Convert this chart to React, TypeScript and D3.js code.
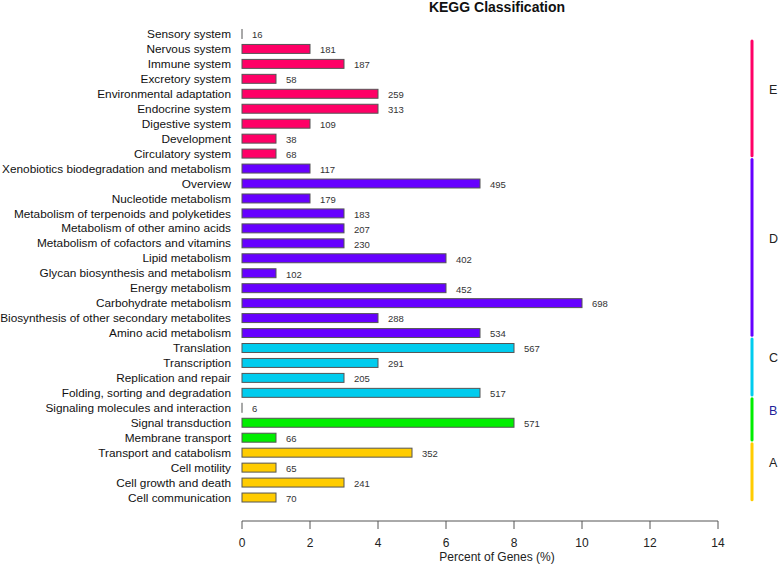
import React from "react";
import * as d3 from "d3";

const categories = [
  "Sensory system", "Nervous system", "Immune system", "Excretory system",
  "Environmental adaptation", "Endocrine system", "Digestive system", "Development",
  "Circulatory system", "Xenobiotics biodegradation and metabolism", "Overview",
  "Nucleotide metabolism", "Metabolism of terpenoids and polyketides",
  "Metabolism of other amino acids", "Metabolism of cofactors and vitamins",
  "Lipid metabolism", "Glycan biosynthesis and metabolism", "Energy metabolism",
  "Carbohydrate metabolism", "Biosynthesis of other secondary metabolites",
  "Amino acid metabolism", "Translation", "Transcription", "Replication and repair",
  "Folding, sorting and degradation", "Signaling molecules and interaction",
  "Signal transduction", "Membrane transport", "Transport and catabolism",
  "Cell motility", "Cell growth and death", "Cell communication",
];

const geneCounts = [
  16, 181, 187, 58, 259, 313, 109, 38, 68, 117, 495, 179, 183, 207, 230, 402, 102,
  452, 698, 288, 534, 567, 291, 205, 517, 6, 571, 66, 352, 65, 241, 70,
];

const percents = [
  0, 2, 3, 1, 4, 4, 2, 1, 1, 2, 7, 2, 3, 3, 3, 6, 1, 6, 10, 4, 7, 8, 4, 3, 7, 0, 8,
  1, 5, 1, 3, 1,
];

const groupOf = [
  "E", "E", "E", "E", "E", "E", "E", "E", "E",
  "D", "D", "D", "D", "D", "D", "D", "D", "D", "D", "D", "D",
  "C", "C", "C", "C",
  "B", "B", "B",
  "A", "A", "A", "A",
];

const groups = ["E", "D", "C", "B", "A"];
const groupColors = ["#FF0066", "#6600FF", "#00CCEE", "#00EE00", "#FFCC00"];
const groupLabelColors = ["#222", "#222", "#222", "#222299", "#222"];
const xTicks = [0, 2, 4, 6, 8, 10, 12, 14];

const W = 778;
const H = 565;
const FONT = "'Liberation Sans', Arial, Helvetica, sans-serif";

export default function App() {
  const x = d3.scaleLinear().domain([0, 14]).range([242, 718]);
  const y = d3
    .scaleBand<string>()
    .domain(categories)
    .range([26.5, 505])
    .paddingInner(0.4)
    .paddingOuter(0.2);
  const color = d3.scaleOrdinal<string, string>().domain(groups).range(groupColors);
  const step = y.step();
  const bw = y.bandwidth();
  const center = (c: string) => (y(c) as number) + bw / 2;
  const plotTop = 41;
  const axisY = 521;

  const groupSpans = groups.map((g, gi) => {
    const members = categories.filter((_, i) => groupOf[i] === g);
    const top = Math.max(center(members[0]) - 0.6 * step, plotTop);
    const bottom = center(members[members.length - 1]) + 0.15 * step;
    return { g, gi, top, bottom };
  });

  return (
    <svg
      width={W}
      height={H}
      style={{ position: "absolute", left: 0, top: 0, background: "#fff" }}
      fontFamily={FONT}
    >
      <rect x={0} y={0} width={W} height={H} fill="#fff" />
      <text x={497} y={12} textAnchor="middle" fontSize={14} fontWeight="bold" fill="#111">
        KEGG Classification
      </text>

      {categories.map((c, i) => {
        const w = Math.max(x(percents[i]) - x(0), 0.01);
        return (
          <g key={c}>
            <text
              x={231}
              y={center(c)}
              dy="0.35em"
              textAnchor="end"
              fontSize={11.8}
              fill="#111"
            >
              {c}
            </text>
            <rect
              x={x(0)}
              y={y(c)}
              width={w}
              height={bw}
              fill={color(groupOf[i])}
              stroke="#555"
              strokeWidth={1}
            />
            <text
              x={x(percents[i]) + 10}
              y={center(c) + 1}
              dy="0.35em"
              fontSize={9.5}
              fill="#333"
            >
              {geneCounts[i]}
            </text>
          </g>
        );
      })}

      <line x1={x(0)} x2={x(14)} y1={axisY} y2={axisY} stroke="#555" strokeWidth={1} />
      {xTicks.map((t) => (
        <g key={t}>
          <line x1={x(t)} x2={x(t)} y1={axisY} y2={axisY + 8} stroke="#555" strokeWidth={1} />
          <text x={x(t)} y={547} textAnchor="middle" fontSize={12} fill="#222">
            {t}
          </text>
        </g>
      ))}
      <text x={497} y={561} textAnchor="middle" fontSize={12} fill="#222">
        Percent of Genes (%)
      </text>

      {groupSpans.map(({ g, gi, top, bottom }) => (
        <g key={g}>
          <line
            x1={752}
            x2={752}
            y1={top}
            y2={bottom}
            stroke={groupColors[gi]}
            strokeWidth={3}
            strokeLinecap="round"
          />
          <text
            x={769}
            y={(top + bottom) / 2 - 9}
            dy="0.35em"
            fontSize={12.5}
            fill={groupLabelColors[gi]}
          >
            {g}
          </text>
        </g>
      ))}
    </svg>
  );
}
